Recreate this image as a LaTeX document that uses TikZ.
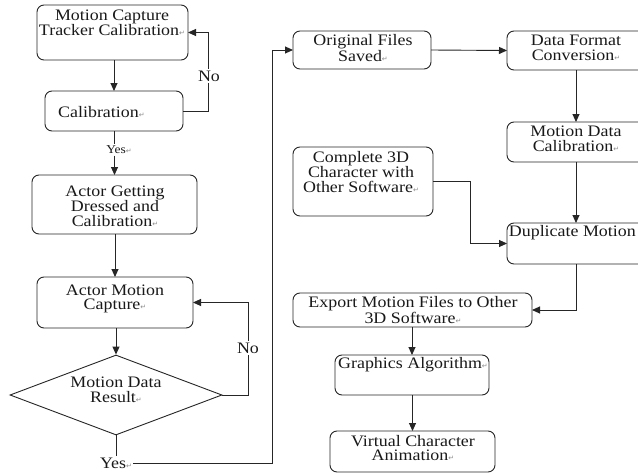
\documentclass[tikz,border=0pt]{standalone}
\usepackage{fontspec}
\setmainfont{Liberation Serif}[FakeStretch=1.12]
\newfontfamily\dejavu{DejaVu Sans}
\usetikzlibrary{arrows.meta,shapes.geometric}
\newcommand\retmark{{\dejavu\fontsize{7}{7}\selectfont\textcolor{black!45}{↵}}}
\begin{document}
\begin{tikzpicture}[x=1pt,y=-1pt,
  box/.style={draw=black!85, line width=0.9pt, rounded corners=7pt, inner sep=0pt, outer sep=0pt},
  txt/.style={font=\fontsize{16}{14.5}\selectfont, align=center, inner sep=0pt, text=black!90},
  lab/.style={font=\fontsize{16}{16}\selectfont, inner sep=1.5pt, fill=white, text=black!90},
  arr/.style={draw=black!85, line width=0.9pt, -{Triangle[length=8pt,width=7pt]}},
  ln/.style={draw=black!85, line width=0.9pt}]
\useasboundingbox (0,0) rectangle (638,474);
\clip (0,0) rectangle (638,474);
\fill[white] (0,0) rectangle (638,474);

% left column boxes
\node[box, minimum width=151pt, minimum height=55pt] (b1) at (112.5,32.5) {};
\node[box, minimum width=138pt, minimum height=40pt] (b2) at (114,111) {};
\node[box, minimum width=165pt, minimum height=59pt] (b3) at (114.5,204.5) {};
\node[box, minimum width=156pt, minimum height=51pt] (b4) at (115,302.5) {};
\node[draw=black!85, line width=0.9pt, diamond, minimum width=212pt, minimum height=80pt, inner sep=0pt] (d) at (116,395) {};

% right column boxes
\node[box, minimum width=138pt, minimum height=38pt] (b5) at (362,50) {};
\node[box, minimum width=138pt, minimum height=39pt] (b6) at (576,50.5) {};
\node[box, minimum width=138pt, minimum height=40pt] (b7) at (576,142) {};
\node[box, minimum width=138pt, minimum height=41pt] (b8) at (576,243.5) {};
\node[box, minimum width=140pt, minimum height=69pt] (b9) at (363,181.5) {};
\node[box, minimum width=239pt, minimum height=34pt] (b10) at (412.5,310) {};
\node[box, minimum width=154pt, minimum height=40pt] (b11) at (412,375) {};
\node[box, minimum width=165pt, minimum height=41pt] (b12) at (412.5,451.5) {};

% texts
\node[txt] (t1) at (112,23) {Motion Capture\\Tracker Calibration\retmark};
\node[txt, anchor=west] (t2) at (58,112) {Calibration\retmark};
\node[txt] (t3) at (115,206) {Actor Getting\\Dressed and\\Calibration\retmark};
\node[txt] (t4) at (115,299) {Actor Motion\\Capture\retmark};
\node[txt] (t5) at (116,390) {Motion Data\\Result\retmark};
\node[txt] (t6) at (363,48) {Original Files\\Saved\retmark};
\node[txt] (t7) at (576,48) {Data Format\\Conversion\retmark};
\node[txt] (t8) at (576,139) {Motion Data\\Calibration\retmark};
\node[txt, anchor=east] (t9) at (636,233) {Duplicate Motion};
\node[txt] (t10) at (361,172) {Complete 3D\\Character with\\Other Software\retmark};
\node[txt] (t11) at (413,310) {Export Motion Files to Other\\3D Software\retmark};
\node[txt] (t12) at (413,365) {Graphics Algorithm\retmark};
\node[txt] (t13) at (413,448) {Virtual Character\\Animation\retmark};

% labels
\node[font=\fontsize{12}{12}\selectfont, inner sep=1.5pt, text=black!90] (yes1) at (119,150) {Yes\retmark};
\node[txt, inner sep=1pt] (yes2) at (116,463) {Yes\retmark};

% connectors
\draw[arr] (b2.north |- b1.south) -- (b2.north);
\draw[arr] (b2.east) -- (208,111) |- (b1.east);
\node[lab] (no1) at (209,76) {No};
\draw[ln] (b2.south) -- (b2.south |- yes1.north);
\draw[arr] (b3.north |- yes1.south) -- (b3.north);
\draw[arr] (b4.north |- b3.south) -- (b4.north);
\draw[arr] (d.north |- b4.south) -- (d.north);
\draw[arr] (d.east) -- (248,395) |- (b4.east);
\node[lab] (no2) at (248,348) {No};
\draw[ln] (d.south) -- (d.south |- yes2.north);
\draw[arr] (yes2.east) -- (272,463) |- (b5.west);

\draw[arr] (b5.east) -- (b6.west);
\draw[arr] (b6.south) -- (b7.north);
\draw[arr] (b7.south) -- (b8.north);
\draw[arr] (b9.east) -- (470,181.5) |- (b8.west);
\draw[arr] (b8.south) |- (b10.east);
\draw[arr] (b11.north |- b10.south) -- (b11.north);
\draw[arr] (b12.north |- b11.south) -- (b12.north);
\end{tikzpicture}
\end{document}
